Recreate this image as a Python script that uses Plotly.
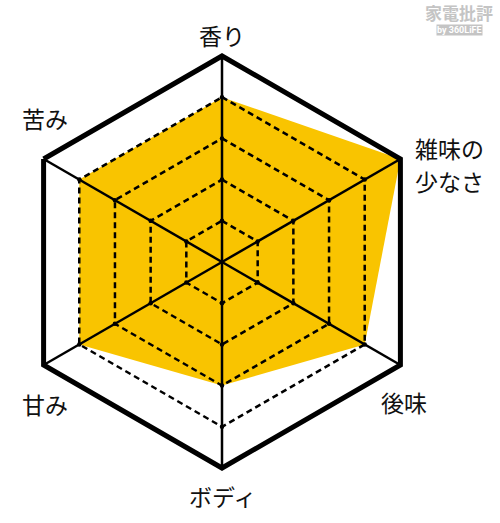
"""plot.py - 家電批評風 ヘキサゴン型レーダーチャート。"""

import plotly.graph_objects as go

# 評価軸(上から時計回り)と評価値(5段階)
categories = ["香り", "雑味の少なさ", "後味", "ボディ", "甘み", "苦み"]
scores = [4, 5, 4, 3, 4, 4]
levels = [1, 2, 3, 4]
max_level = 5

FILL = "#F9C400"
W, H = 500, 523

fig = go.Figure()

# 塗りつぶし(グリッドより下)
fig.add_trace(
    go.Scatterpolar(
        r=scores + scores[:1],
        theta=categories + categories[:1],
        mode="lines",
        fill="toself",
        fillcolor=FILL,
        line=dict(width=0, color=FILL),
        hoverinfo="skip",
    )
)

# 点線の六角形(塗りの上に描く)
for lv in levels:
    fig.add_trace(
        go.Scatterpolar(
            r=[lv] * (len(categories) + 1),
            theta=categories + categories[:1],
            mode="lines",
            line=dict(color="black", width=2.5, dash="6px,4px"),
            hoverinfo="skip",
        )
    )

# 中心からの軸線
for c in categories:
    fig.add_trace(
        go.Scatterpolar(
            r=[0, max_level],
            theta=[c, c],
            mode="lines",
            line=dict(color="black", width=2.5),
            hoverinfo="skip",
        )
    )

# 目盛りの点
fig.add_trace(
    go.Scatterpolar(
        r=[lv for c in categories for lv in levels],
        theta=[c for c in categories for lv in levels],
        mode="markers",
        marker=dict(color="black", size=4.5),
        hoverinfo="skip",
    )
)


def px_x(x):
    return x / W


def px_y(y):
    return 1 - y / H


cx, cy, rad = 222, 262, 206
fig.update_layout(
    width=W,
    height=H,
    margin=dict(l=0, r=0, t=0, b=0),
    paper_bgcolor="white",
    showlegend=False,
    font=dict(family="Noto Sans CJK JP", color="#111111"),
    polar=dict(
        domain=dict(
            x=[px_x(cx - rad), px_x(cx + rad)],
            y=[px_y(cy + rad), px_y(cy - rad)],
        ),
        gridshape="linear",
        bgcolor="white",
        radialaxis=dict(
            range=[0, max_level],
            showgrid=False,
            showline=False,
            showticklabels=False,
            ticks="",
        ),
        angularaxis=dict(
            rotation=90,
            direction="clockwise",
            showgrid=False,
            showticklabels=False,
            ticks="",
            showline=True,
            linecolor="black",
            linewidth=5,
            layer="above traces",
        ),
    ),
)

# 軸ラベル(画素位置で配置)。「雑味の少なさ」は2行に分けて置く
label_lines = [
    ("香り", 222, 35, "center"),
    ("雑味の", 413, 148, "left"),
    ("少なさ", 413, 181, "left"),
    ("後味", 404, 402, "center"),
    ("ボディ", 222, 496, "center"),
    ("甘み", 45, 404, "center"),
    ("苦み", 45, 118, "center"),
]
for text, px, py, align in label_lines:
    fig.add_annotation(
        x=px_x(px),
        y=px_y(py),
        xref="paper",
        yref="paper",
        text=text,
        showarrow=False,
        xanchor=align,
        yanchor="middle",
        font=dict(size=23, color="#111111"),
    )

# 透かしロゴ
fig.add_annotation(
    x=px_x(459), y=px_y(12), xref="paper", yref="paper",
    xanchor="center", yanchor="middle",
    text="<b>家電批評</b>", showarrow=False,
    font=dict(size=17, color="#c4c4c4"),
)
fig.add_annotation(
    x=px_x(459), y=px_y(30), xref="paper", yref="paper",
    xanchor="center", yanchor="middle",
    text="<b>by 360LiFE</b>", showarrow=False,
    bgcolor="#c4c4c4", borderpad=0,
    font=dict(size=9, color="white", family="Roboto"),
)

# ページ本体の余白をなくして図を左上にそろえる
fig.write_html(
    "out.html",
    config={"displayModeBar": False},
    post_script="document.body.style.margin = '0';",
)
